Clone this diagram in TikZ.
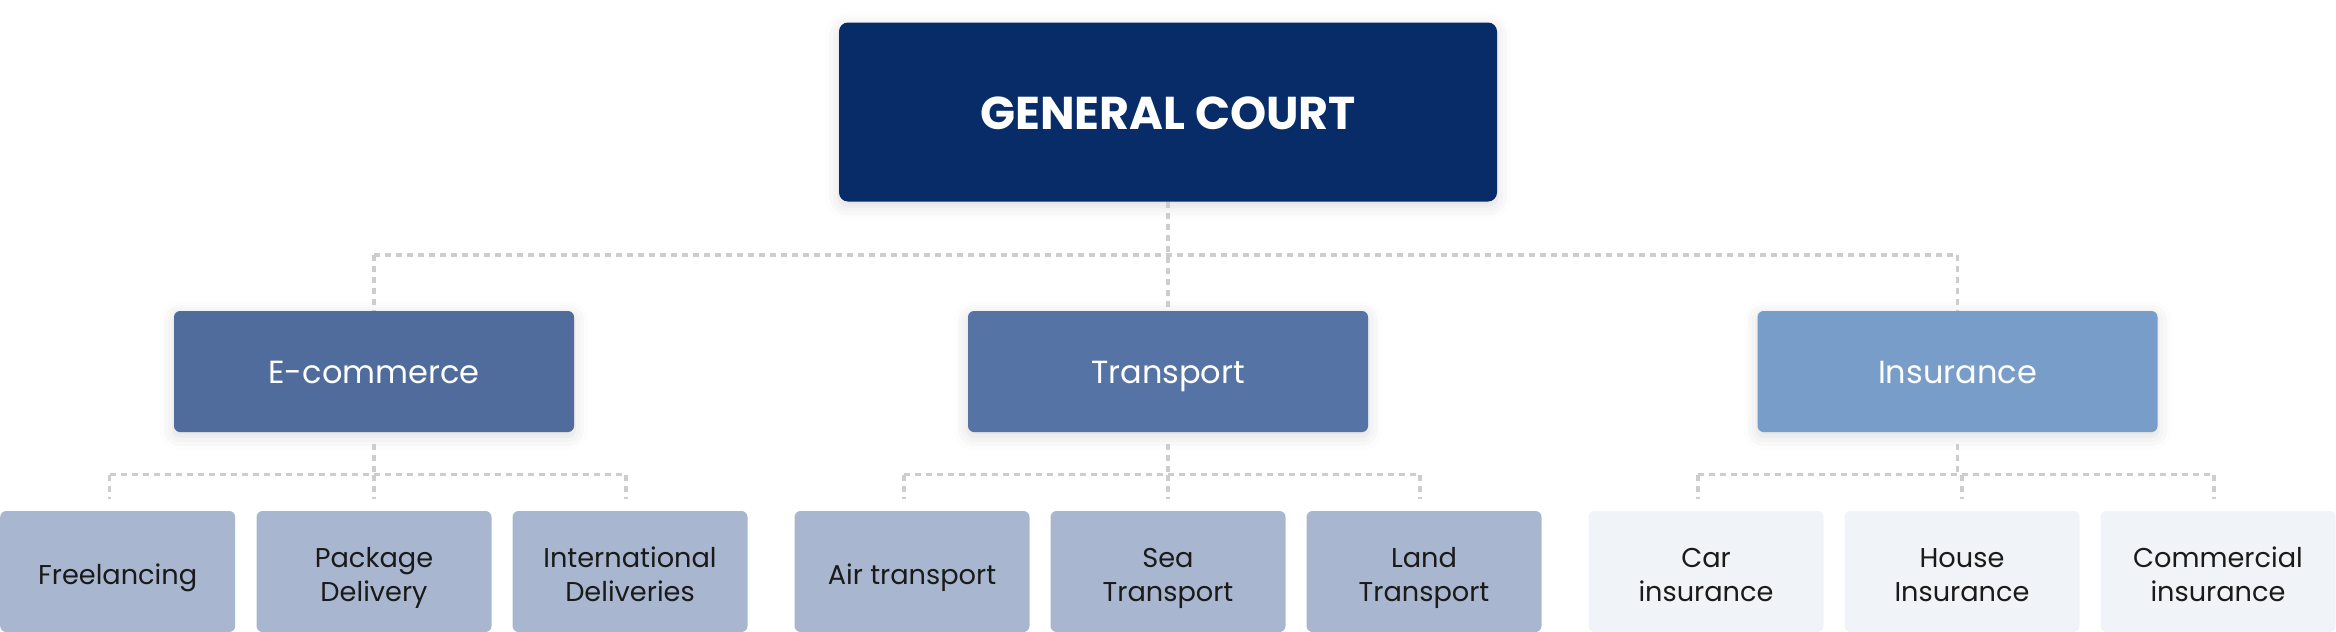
\documentclass[tikz,border=0pt]{standalone}
\usepackage{fontspec}
\setmainfont{Poppins}
\usetikzlibrary{shadows.blur}
\definecolor{cTop}{HTML}{072C68}
\definecolor{cEcom}{HTML}{4F6C9C}
\definecolor{cTrans}{HTML}{5573A4}
\definecolor{cIns}{HTML}{799DC9}
\definecolor{cLeaf}{HTML}{A8B7CF}
\definecolor{cLeafIns}{HTML}{F0F4F9}
\definecolor{cLine}{HTML}{CDCDCD}
\definecolor{cText}{HTML}{1A1A1A}
\tikzset{
  softshadow/.style={blur shadow={shadow xshift=0pt, shadow yshift=-2pt, shadow blur radius=7pt, shadow opacity=14}},
  topbox/.style={fill=cTop, text=white, rounded corners=4.5pt, minimum width=329pt, minimum height=89.5pt,
    font=\fontsize{23}{27}\selectfont\bfseries, text height=17pt, text depth=0pt, softshadow},
  midbox/.style={rounded corners=3pt, minimum width=200pt, minimum height=60.5pt, text=white,
    font=\fontsize{16}{19}\selectfont, text height=11.5pt, text depth=0pt, softshadow},
  leafbox/.style={fill=cLeaf, rounded corners=3pt, minimum width=117.5pt, minimum height=60.5pt, text=cText,
    align=center, font=\fontsize{13.6}{17}\selectfont, text height=12.5pt, text depth=0pt},
  twoline/.style={text height=29.5pt},
  leafins/.style={leafbox, fill=cLeafIns},
  conn/.style={draw=cLine, line width=1.75pt, dash pattern=on 3pt off 2.5pt}
}
\begin{document}
\begin{tikzpicture}[x=0.5pt,y=-0.5pt]
\useasboundingbox (0,0) rectangle (2336,632);
\node[topbox] (top) at (1168,112) {GENERAL COURT};
\node[midbox, fill=cEcom] (ecom) at (374,371.5) {E-commerce};
\node[midbox, fill=cTrans] (trans) at (1168,371.5) {Transport};
\node[midbox, fill=cIns] (ins) at (1957.5,371.5) {Insurance};

\node[leafbox] (free) at (117.7,571.5) {Freelancing};
\node[leafbox, twoline] (pack) at (374,571.5) {Package\\Delivery};
\node[leafbox, twoline] (intl) at (630,571.5) {International\\Deliveries};
\node[leafbox] (air) at (912,571.5) {Air transport};
\node[leafbox, twoline] (sea) at (1168,571.5) {Sea\\Transport};
\node[leafbox, twoline] (land) at (1424,571.5) {Land\\Transport};
\node[leafins, twoline] (car) at (1706,571.5) {Car\\insurance};
\node[leafins, twoline] (house) at (1962,571.5) {House\\Insurance};
\node[leafins, twoline] (comm) at (2218,571.5) {Commercial\\insurance};

\coordinate (h1) at (0,255);
\coordinate (h2) at (0,474.5);

\draw[conn] (top.south) -- (trans.north);
\draw[conn] (ecom.north |- h1) -- (ins.north |- h1);
\draw[conn] (ecom.north |- h1) -- (ecom.north);
\draw[conn] (ins.north |- h1) -- (ins.north);

\foreach \p/\a/\b/\c in {ecom/free/pack/intl, trans/air/sea/land, ins/car/house/comm}{
  \draw[conn] ([yshift=-6pt]\p.south) -- (\p.south |- h2);
  \draw[conn] ([xshift=-4pt]\a.north |- h2) -- ([xshift=-2pt]\c.north |- h2);
  \draw[conn] ([xshift=-4pt]\a.north |- h2) -- ([xshift=-4pt,yshift=6pt]\a.north);
  \draw[conn] (\b.north |- h2) -- ([yshift=6pt]\b.north);
  \draw[conn] ([xshift=-2pt]\c.north |- h2) -- ([xshift=-2pt,yshift=6pt]\c.north);
}
\end{tikzpicture}
\end{document}
